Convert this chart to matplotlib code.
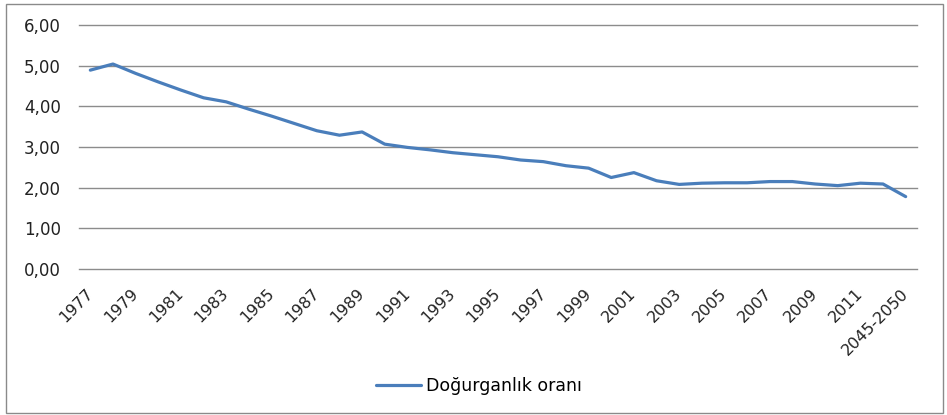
import matplotlib
matplotlib.use("Agg")
import matplotlib.pyplot as plt
from matplotlib.patches import Rectangle

# Doğurganlık oranı (total fertility rate)
years = [str(y) for y in range(1977, 2013)] + ["2045-2050"]
fertility = [4.89, 5.04, 4.81, 4.60, 4.40, 4.21, 4.11, 3.93, 3.76, 3.58,
             3.40, 3.29, 3.37, 3.07, 2.99, 2.93, 2.86, 2.81, 2.76, 2.68,
             2.64, 2.54, 2.48, 2.25, 2.37, 2.17, 2.08, 2.11, 2.12, 2.12,
             2.15, 2.15, 2.09, 2.05, 2.11, 2.09, 1.78]
y_ticks = [0, 1, 2, 3, 4, 5, 6]

W, H = 947, 415
fig = plt.figure(figsize=(W / 100, H / 100), dpi=100)
fig.patch.set_facecolor("white")

# chart-area frame like the Excel export
fig.patches.append(Rectangle((6 / W, 1 - 413 / H), 937 / W, 409 / H,
                             transform=fig.transFigure, fill=False,
                             edgecolor="#8a8a8a", linewidth=1.0))

left, right = 79 / W, 917 / W
bottom, top = 1 - 269 / H, 1 - 25 / H
ax = fig.add_axes([left, bottom, right - left, top - bottom])

x = list(range(len(years)))
line, = ax.plot(x, fertility, color="#4A7EBB", linewidth=2.3,
                solid_joinstyle="round", solid_capstyle="round", zorder=3)

# horizontal gridlines (drawn unclipped so the 0 line is full width)
for v in y_ticks:
    ax.axhline(v, color="#8c8c8c", linewidth=1.0, clip_on=False, zorder=1)

ax.set_xlim(-0.5, len(years) - 0.5)
ax.set_ylim(0, 6)
ax.set_yticks(y_ticks)
ax.set_yticklabels([f"{v:.2f}".replace(".", ",") for v in y_ticks],
                   fontsize=12, color="#222222")
ax.set_xticks(x[::2])
ax.set_xticklabels(years[::2], rotation=45, ha="right", va="center",
                   rotation_mode="anchor", fontsize=11.5, color="#222222")

for s in ax.spines.values():
    s.set_visible(False)
ax.tick_params(axis="both", length=0)
ax.tick_params(axis="y", pad=13)
ax.tick_params(axis="x", pad=16)

fig.legend([line], ["Doğurganlık oranı"], loc="center",
           bbox_to_anchor=(479 / W, 1 - 386 / H), frameon=False,
           fontsize=12.5, handlelength=2.6, handletextpad=0.25)

fig.savefig("out.png", dpi=100)
